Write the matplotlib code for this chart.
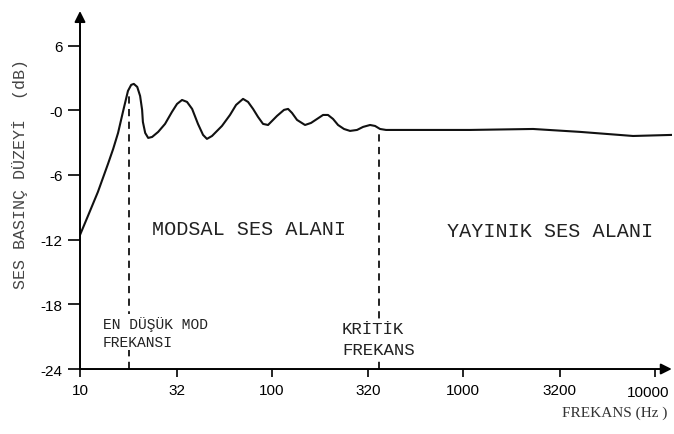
import matplotlib
matplotlib.use("Agg")
import matplotlib.pyplot as plt
from matplotlib.transforms import ScaledTranslation

# Room response: sound pressure level vs. frequency
freq_hz = [10.0, 11.0, 12.4, 14.0, 14.9, 15.8, 16.8, 17.8, 18.5, 19.1, 19.9,
           20.6, 21.1, 21.3, 21.9, 22.7, 23.8, 25.6, 27.8, 30.2, 32.1, 34.1,
           36.2, 38.5, 41.3, 43.9, 46.0, 48.9, 55.1, 60.7, 65.3, 71.0, 75.4,
           80.1, 85.0, 90.3, 95.9, 106.8, 116.2, 122.0, 127.9, 135.9, 149.6,
           160.8, 172.9, 185.8, 197.2, 209.5, 222.5, 239.0, 257.0, 279.6,
           300.5, 327.0, 347.2, 368.7, 396.2, 468.8, 1088, 2320, 4083, 7722,
           12340]
level_db = [-11.57, -9.81, -7.58, -4.98, -3.59, -2.11, -0.07, 1.79, 2.35,
            2.44, 2.16, 1.32, 0.03, -1.09, -2.11, -2.57, -2.48, -2.01, -1.27,
            -0.16, 0.58, 0.95, 0.77, 0.12, -1.27, -2.29, -2.66, -2.39, -1.46,
            -0.44, 0.49, 1.05, 0.77, 0.12, -0.62, -1.27, -1.37, -0.53, 0.03,
            0.12, -0.25, -0.90, -1.37, -1.18, -0.81, -0.44, -0.44, -0.81,
            -1.37, -1.74, -1.92, -1.83, -1.55, -1.37, -1.46, -1.74, -1.83,
            -1.83, -1.83, -1.74, -2.01, -2.39, -2.29]

x_ticks = [10, 32, 100, 320, 1000, 3200, 10000]
x_ticklabels = ["10", "32", "100", "320", "1000", "3200", "10000"]
y_ticks = [6, 0, -6, -12, -18, -24]
y_ticklabels = ["6", "-0", "-6", "-12", "-18", "-24"]

lowest_mode_hz = 18.0
lowest_mode_db = 1.8
critical_hz = 364.0
critical_db = -1.8

mono = "Liberation Mono"
ink = "#111111"

fig = plt.figure(figsize=(6.74, 4.35), dpi=100)
ax = fig.add_axes([0.1187, 0.1494, 0.878, 0.823])
ax.set_xscale("log")
ax.set_xlim(10, 12300)
ax.set_ylim(-24, 9.2)

ax.plot(freq_hz, level_db, color=ink, lw=1.5, solid_joinstyle="round")

# dashed markers for the two characteristic frequencies
ax.vlines([lowest_mode_hz, critical_hz], -24, [lowest_mode_db, critical_db],
          colors=ink, linestyles=(0, (4, 3)), lw=1.3)

for side in ["top", "right", "left", "bottom"]:
    ax.spines[side].set_visible(False)

# axes drawn as arrows
arrow = dict(arrowstyle="-|>", color="black", lw=1.4, mutation_scale=16,
             shrinkA=0, shrinkB=0)
ax.annotate("", xy=(0, 1), xytext=(0, 0), xycoords="axes fraction",
            arrowprops=arrow)
ax.annotate("", xy=(1, 0), xytext=(0, 0), xycoords="axes fraction",
            arrowprops=arrow)

ax.set_xticks(x_ticks)
ax.set_xticklabels(x_ticklabels)
ax.xaxis.set_minor_locator(matplotlib.ticker.NullLocator())
ax.set_yticks(y_ticks)
ax.set_yticklabels(y_ticklabels)
ax.tick_params(axis="x", direction="out", length=6, width=1.2, pad=4,
               labelsize=11)
ax.tick_params(axis="y", direction="out", length=8.5, width=1.2, pad=4,
               labelsize=11)
for lab in ax.get_xticklabels() + ax.get_yticklabels():
    lab.set_fontfamily("Liberation Sans")

# nudge the last frequency label so it stays inside the figure
last = ax.get_xticklabels()[-1]
last.set_transform(last.get_transform()
                   + ScaledTranslation(-6 / 100, -2 / 100, fig.dpi_scale_trans))

ax.text(23.8, -11.0, "MODSAL SES ALANI", family=mono, fontsize=14.5,
        color="#222222", ha="left", va="center")
ax.text(824, -11.2, "YAYINIK SES ALANI", family=mono, fontsize=14.5,
        color="#222222", ha="left", va="center")

box = dict(facecolor="white", edgecolor="none", pad=1)
ax.text(13.2, -20.6, "EN DÜŞÜK MOD\nFREKANSI", family=mono, fontsize=10.5,
        color="#222222", ha="left", va="center", linespacing=1.4, bbox=box)
ax.text(233, -21.2, "KRİTİK\nFREKANS", family=mono, fontsize=12.5,
        color="#222222", ha="left", va="center", linespacing=1.45, bbox=box)

fig.text(20 / 674, 1 - 174 / 435, "SES BASINÇ DÜZEYİ  (dB)", family=mono,
         fontsize=12, color="#444444", rotation=90, ha="center", va="center")
fig.text(667 / 674, 1 - 413 / 435, "FREKANS (Hz )", family="Liberation Serif",
         fontsize=11, color="#333333", ha="right", va="center")

fig.savefig("out.png", dpi=100)
